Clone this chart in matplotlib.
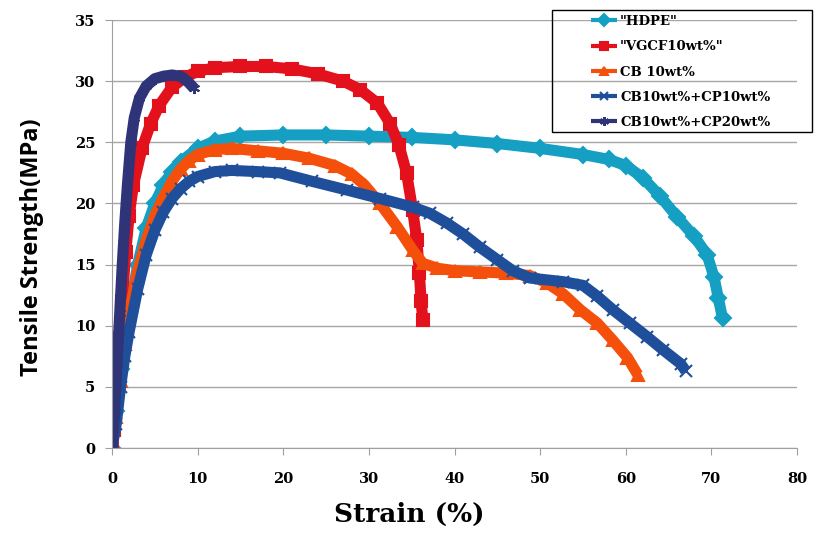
import matplotlib
matplotlib.use('Agg')
from matplotlib import pyplot as plt
from matplotlib.patches import Rectangle

# strain (%) / tensile strength (MPa)
hdpe_x = [0, 0.5, 1, 2, 3, 4, 5, 6, 7, 8, 10, 12, 15, 20, 25, 30, 35, 40, 45, 50,
          55, 58, 60, 62, 64, 66, 68, 69.5, 70.3, 70.8, 71.3]
hdpe_y = [0, 3, 6.5, 11, 15, 18, 20, 21.5, 22.6, 23.4, 24.5, 25.1, 25.5, 25.6, 25.6,
          25.5, 25.4, 25.2, 24.9, 24.5, 24.0, 23.6, 23.1, 22.1, 20.6, 18.9, 17.3,
          15.8, 14.0, 12.3, 10.6]

vgcf_x = [0, 0.2, 0.4, 0.6, 0.9, 1.2, 1.6, 2.0, 2.5, 3.5, 4.5, 5.5, 7, 8.5, 10, 12,
          15, 18, 21, 24, 27, 29, 31, 32.5, 33.5, 34.4, 35.1, 35.6, 35.9, 36.1, 36.3]
vgcf_y = [0, 1.5, 3.5, 6, 9, 12, 16, 19, 21.5, 24.5, 26.5, 28, 29.5, 30.3, 30.8, 31.1,
          31.2, 31.2, 31.0, 30.6, 30.0, 29.3, 28.2, 26.5, 24.8, 22.5, 19.5, 17.0,
          14.3, 12.0, 10.5]

cb_x = [0, 0.5, 1, 1.5, 2, 3, 4, 5, 6, 7, 8, 9, 10, 12, 14, 17, 20, 23, 26, 28, 29.5,
        31.3, 33.3, 35.1, 36.3, 38, 40, 43, 46, 48.8, 50.8, 52.7, 54.7, 56.7, 58.5,
        60.2, 61.4]
cb_y = [0, 2.5, 5.5, 8.5, 11, 14.5, 17, 19, 20.5, 21.8, 22.8, 23.5, 24, 24.4, 24.5,
        24.3, 24.1, 23.7, 23.1, 22.4, 21.5, 20.0, 18.1, 16.2, 15.1, 14.7, 14.5, 14.4,
        14.3, 14.1, 13.5, 12.6, 11.3, 10.2, 8.8, 7.4, 6.0]

cp10_x = [0, 0.5, 1, 1.5, 2, 3, 4, 5, 6, 7, 8, 9, 10, 12, 14, 17, 19.6, 23.4, 27.4,
          31.3, 35.1, 37.1, 39.1, 41, 43, 45, 46.8, 48.8, 52.7, 55, 56.7, 58.5, 60.5,
          62.5, 64.4, 66.4, 67]
cp10_y = [0, 2, 5, 7.5, 9.5, 13, 15.8, 17.8, 19.3, 20.4, 21.2, 21.8, 22.2, 22.6, 22.7,
          22.6, 22.5, 21.8, 21.1, 20.4, 19.7, 19.2, 18.4, 17.5, 16.4, 15.4, 14.5, 13.9,
          13.6, 13.3, 12.4, 11.3, 10.2, 9.1, 8.0, 6.9, 6.3]

cp20_x = [0, 0.3, 0.6, 0.9, 1.2, 1.5, 1.8, 2.2, 2.6, 3.2, 4, 5, 6, 7, 8, 8.8, 9.6]
cp20_y = [0, 3, 7, 11, 15, 18.5, 21.5, 25, 27, 28.6, 29.6, 30.2, 30.4, 30.5, 30.4, 30,
          29.4]

series = [
    ('"HDPE"', hdpe_x, hdpe_y, '#149FC3', 'D'),
    ('"VGCF10wt%"', vgcf_x, vgcf_y, '#E2111C', 's'),
    ('CB 10wt%', cb_x, cb_y, '#F4500B', '^'),
    ('CB10wt%+CP10wt%', cp10_x, cp10_y, '#1F4F9B', 'x'),
    ('CB10wt%+CP20wt%', cp20_x, cp20_y, '#2F3478', (6, 2, 0)),
]

serif = ['DejaVu Serif']
W, H = 818, 535

fig = plt.figure(figsize=(8.18, 5.35), dpi=100)
ax = fig.add_axes([112 / W, 1 - 448 / H, (797 - 112) / W, (448 - 20) / H])

for name, xs, ys, col, mk in series:
    ax.plot(xs, ys, color=col, lw=8, marker=mk, ms=8, mew=1.5,
            markeredgecolor=col, label=name, solid_capstyle='butt')

ax.set_xlim(0, 80)
ax.set_ylim(0, 35)
ax.set_xticks(range(0, 81, 10))
ax.set_yticks(range(0, 36, 5))
ax.yaxis.grid(True, color='#a6a6a6', lw=1)
ax.set_axisbelow(True)
for s in ['top', 'right']:
    ax.spines[s].set_visible(False)
for s in ['left', 'bottom']:
    ax.spines[s].set_color('#a0a0a0')
ax.tick_params(colors='#a0a0a0', length=5, labelcolor='black')
for lab in ax.get_xticklabels() + ax.get_yticklabels():
    lab.set_family(serif)
    lab.set_fontweight('bold')
    lab.set_fontsize(10.5)
ax.tick_params(axis='x', pad=12)
ax.tick_params(axis='y', pad=7)

ax.set_xlabel('Strain (%)', family=serif, fontweight='bold', fontsize=19)
ax.xaxis.set_label_coords((409 - 112) / (797 - 112), (448 - 502) / 428)
ax.set_ylabel('Tensile Strength(MPa)', family='Open Sans', fontweight='bold',
              fontsize=17)
ax.yaxis.set_label_coords((44 - 112) / (797 - 112), (448 - 247) / 428)

# legend box (transparent, grid shows through)
fig.patches.append(Rectangle((552 / W, 1 - 132 / H), 260 / W, 122 / H,
                             transform=fig.transFigure, fill=False,
                             edgecolor='black', lw=1))
leg = fig.legend(loc='upper left', bbox_to_anchor=(591 / W, 1 - 15 / H),
                 prop={'family': serif, 'weight': 'bold', 'size': 9.5},
                 frameon=False, handlelength=1.95, handletextpad=0.25,
                 labelspacing=0.93, borderpad=0, borderaxespad=0,
                 markerscale=0.8)
for h in leg.legend_handles:
    h.set_linewidth(3)

fig.savefig('out.png', dpi=100)
